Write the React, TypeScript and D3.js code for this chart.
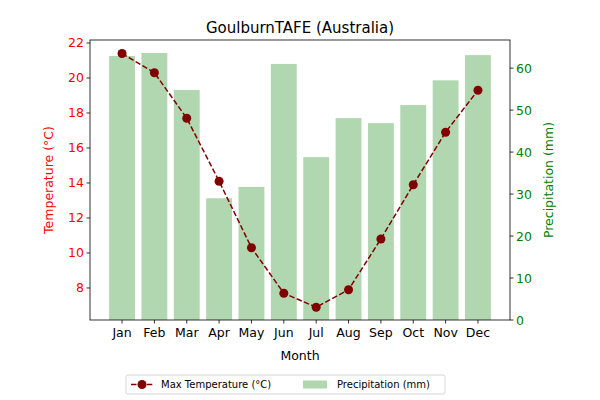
import * as d3 from "d3";

const months = ["Jan", "Feb", "Mar", "Apr", "May", "Jun", "Jul", "Aug", "Sep", "Oct", "Nov", "Dec"];
const maxTemp = [21.4, 20.3, 17.7, 14.1, 10.3, 7.7, 6.9, 7.9, 10.8, 13.9, 16.9, 19.3];
const precip = [62.9, 63.6, 54.8, 29.0, 31.7, 61.0, 38.8, 48.1, 46.9, 51.2, 57.1, 63.1];
const tempTicks = [8, 10, 12, 14, 16, 18, 20, 22];
const precipTicks = [0, 10, 20, 30, 40, 50, 60];

export default function App() {
  const L = 90, R = 510, T = 40, B = 320;
  const x = d3.scaleLinear().domain([-0.99, 11.99]).range([L, R]);
  const yT = d3.scaleLinear().domain([6.17, 22.17]).range([B, T]);
  const yP = d3.scaleLinear().domain([0, 66.7]).range([B, T]);
  const bw = x(0.4) - x(-0.4);
  const line = d3.line<number>().x((_, i) => x(i)).y(d => yT(d));
  const font = "DejaVu Sans, sans-serif";
  return (
    <svg width={600} height={400} style={{ position: "absolute", left: 0, top: 0, fontFamily: font }}>
      <rect width={600} height={400} fill="#fff" />
      {precip.map((p, i) => (
        <rect key={i} x={x(i) - bw / 2} y={yP(p)} width={bw} height={B - yP(p)} fill="#b1d7b1" />
      ))}
      <path d={line(maxTemp) ?? ""} fill="none" stroke="#800000" strokeWidth={1.5} strokeDasharray="5.5,2.4" />
      {maxTemp.map((t, i) => (
        <circle key={i} cx={x(i)} cy={yT(t)} r={4.5} fill="#800000" />
      ))}
      <rect x={L} y={T} width={R - L} height={B - T} fill="none" stroke="#000" strokeWidth={0.8} />
      {months.map((m, i) => (
        <g key={m}>
          <line x1={x(i)} x2={x(i)} y1={B} y2={B + 3.5} stroke="#000" strokeWidth={0.8} />
          <text x={x(i)} y={B + 17} fontSize={12.5} textAnchor="middle">{m}</text>
        </g>
      ))}
      {tempTicks.map(t => (
        <g key={t}>
          <line x1={L - 3.5} x2={L} y1={yT(t)} y2={yT(t)} stroke="#000" strokeWidth={0.8} />
          <text x={L - 6} y={yT(t) + 4.5} fontSize={12.5} textAnchor="end" fill="red">{t}</text>
        </g>
      ))}
      {precipTicks.map(t => (
        <g key={t}>
          <line x1={R} x2={R + 3.5} y1={yP(t)} y2={yP(t)} stroke="#000" strokeWidth={0.8} />
          <text x={R + 6} y={yP(t) + 4.5} fontSize={12.5} textAnchor="start" fill="green">{t}</text>
        </g>
      ))}
      <text x={300} y={33} fontSize={15} textAnchor="middle">GoulburnTAFE (Australia)</text>
      <text x={300} y={360} fontSize={12.5} textAnchor="middle">Month</text>
      <text transform={`translate(53,${(T + B) / 2}) rotate(-90)`} fontSize={12.5} textAnchor="middle" fill="red">Temperature (°C)</text>
      <text transform={`translate(553,${(T + B) / 2}) rotate(-90)`} fontSize={12.5} textAnchor="middle" fill="green">Precipitation (mm)</text>
      <g>
        <rect x={126} y={375} width={319} height={19} rx={2} fill="#fff" stroke="#ccc" strokeWidth={0.8} />
        <line x1={131} x2={153} y1={384.5} y2={384.5} stroke="#800000" strokeWidth={1.5} strokeDasharray="5.5,2.4" />
        <circle cx={142} cy={384.5} r={4.5} fill="#800000" />
        <text x={161} y={388} fontSize={10}>Max Temperature (°C)</text>
        <rect x={303} y={380.5} width={24} height={8} fill="#b1d7b1" />
        <text x={337} y={388} fontSize={10}>Precipitation (mm)</text>
      </g>
    </svg>
  );
}
